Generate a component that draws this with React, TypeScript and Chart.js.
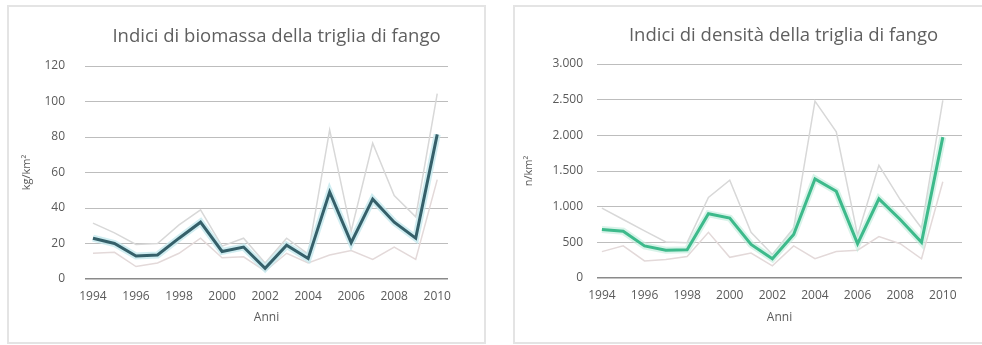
import React, { useEffect, useRef } from "react";
import { Chart, registerables } from "chart.js";

Chart.register(...registerables);

// ---- Data ----
const years = [1994, 1995, 1996, 1997, 1998, 1999, 2000, 2001, 2002, 2003, 2004, 2005, 2006, 2007, 2008, 2009, 2010];
const xTickYears = [1994, 1996, 1998, 2000, 2002, 2004, 2006, 2008, 2010];

const biomassMain = [23, 20, 13, 13.5, 23, 32, 15.5, 18, 6, 19, 11.5, 49, 20.5, 45, 32, 23, 81.5];
const biomassUpper = [31.5, 26, 19.5, 20, 30.5, 39, 18.5, 23, 9, 23, 14, 84, 27, 76.5, 47, 35, 104.5];
const biomassLower = [14.5, 15, 7, 9, 14.5, 23, 12, 12.5, 4.5, 14.5, 9, 13.5, 16, 11, 18, 11, 56];
const biomassTicks = [0, 20, 40, 60, 80, 100, 120];

const densityMain = [680, 655, 450, 390, 395, 900, 840, 470, 270, 610, 1390, 1215, 480, 1110, 820, 500, 1975];
const densityUpper = [980, 820, 660, 505, 495, 1130, 1370, 640, 330, 700, 2480, 2050, 600, 1580, 1100, 700, 2490];
const densityLower = [370, 450, 240, 260, 300, 640, 290, 350, 170, 450, 270, 370, 390, 580, 480, 270, 1350];
const densityTicks = [0, 500, 1000, 1500, 2000, 2500, 3000];

const FONT = "'Open Sans', 'DejaVu Sans', sans-serif";
const TEXT = "#5a5a5a";

const panelTitlePlugin = {
  id: "panelTitle",
  afterDraw(chart: any, _args: any, opts: any) {
    if (!opts || !opts.text) return;
    const { ctx, chartArea } = chart;
    ctx.save();
    ctx.font = `${opts.size}px ${FONT}`;
    ctx.fillStyle = opts.color;
    ctx.textAlign = "center";
    ctx.textBaseline = "middle";
    ctx.fillText(opts.text, (chartArea.left + chartArea.right) / 2 + opts.dx, opts.y);
    ctx.restore();
  },
};

type PanelProps = {
  title: string;
  yTitle: string;
  main: number[];
  upper: number[];
  lower: number[];
  yTicks: number[];
  mainColor: string;
  haloColor: string;
  thousandsDot: boolean;
  layout: {
    width: number;
    height: number;
    padTop: number;
    padRight: number;
    yWidth: number;
    xHeight: number;
    yTickPad: number;
    yTitlePad: number;
    xMin: number;
    xMax: number;
    titleDx: number;
    titleY: number;
  };
};

function fmt(v: number, dot: boolean) {
  const s = String(Math.round(v));
  return dot ? s.replace(/\B(?=(\d{3})+(?!\d))/g, ".") : s;
}

function Panel(p: PanelProps) {
  const ref = useRef<HTMLCanvasElement | null>(null);
  useEffect(() => {
    if (!ref.current) return;
    const L = p.layout;
    const pts = (arr: number[]) => years.map((y, i) => ({ x: y, y: arr[i] }));
    const chart = new Chart(ref.current, {
      type: "line",
      data: {
        datasets: [
          { data: pts(p.main), borderColor: p.mainColor, borderWidth: 3, pointRadius: 0, tension: 0 },
          { data: pts(p.main), borderColor: p.haloColor, borderWidth: 7, pointRadius: 0, tension: 0 },
          { data: pts(p.upper), borderColor: "#d8d8d8", borderWidth: 1.5, pointRadius: 0, tension: 0 },
          { data: pts(p.lower), borderColor: "#e3d9d9", borderWidth: 1.5, pointRadius: 0, tension: 0 },
        ],
      },
      options: {
        responsive: false,
        animation: false,
        devicePixelRatio: 1,
        layout: { padding: { top: L.padTop, right: L.padRight, left: 0, bottom: 0 } },
        plugins: {
          legend: { display: false },
          tooltip: { enabled: false },
          title: { display: false },
          panelTitle: { text: p.title, size: 18.5, color: "#5f5f5f", dx: L.titleDx, y: L.titleY },
        } as any,
        scales: {
          x: {
            type: "linear",
            min: L.xMin,
            max: L.xMax,
            bounds: "data",
            grid: { display: false, drawTicks: false },
            border: { display: false },
            afterBuildTicks: (s: any) => {
              s.ticks = xTickYears.map((v) => ({ value: v }));
            },
            afterFit: (s: any) => {
              s.height = L.xHeight;
            },
            ticks: {
              autoSkip: false,
              maxRotation: 0,
              padding: 10,
              color: TEXT,
              font: { family: FONT, size: 12 },
              callback: (v: any) => String(v),
            },
            title: {
              display: true,
              text: "Anni",
              color: TEXT,
              font: { family: FONT, size: 12 },
              padding: { top: 0, bottom: 17 },
            },
          },
          y: {
            type: "linear",
            min: p.yTicks[0],
            max: p.yTicks[p.yTicks.length - 1],
            bounds: "data",
            afterBuildTicks: (s: any) => {
              s.ticks = p.yTicks.map((v) => ({ value: v }));
            },
            afterFit: (s: any) => {
              s.width = L.yWidth;
            },
            grid: {
              drawTicks: false,
              color: (c: any) => (c.tick && c.tick.value === 0 ? "#8a8a8a" : "#bdbdbd"),
              lineWidth: (c: any) => (c.tick && c.tick.value === 0 ? 1.5 : 1),
            },
            border: { display: false },
            ticks: {
              padding: L.yTickPad,
              color: TEXT,
              font: { family: FONT, size: 12 },
              callback: (v: any) => fmt(Number(v), p.thousandsDot),
            },
            title: {
              display: true,
              text: p.yTitle,
              color: TEXT,
              font: { family: FONT, size: 11 },
              padding: { top: L.yTitlePad, bottom: 0 },
            },
          },
        },
      },
      plugins: [panelTitlePlugin],
    } as any);
    return () => chart.destroy();
  }, []);
  return (
    <canvas
      ref={ref}
      width={p.layout.width}
      height={p.layout.height}
      style={{ width: p.layout.width, height: p.layout.height, display: "block" }}
    />
  );
}

export default function App() {
  return (
    <div style={{ position: "absolute", left: 0, top: 0, width: 982, height: 345, overflow: "hidden", background: "#fff" }}>
      <div
        style={{
          position: "absolute",
          left: 7,
          top: 5,
          width: 479,
          height: 339,
          border: "2px solid #e4e4e4",
          boxSizing: "border-box",
        }}
      />
      <div
        style={{
          position: "absolute",
          left: 513,
          top: 5,
          width: 490,
          height: 339,
          border: "2px solid #e4e4e4",
          boxSizing: "border-box",
        }}
      />
      <div style={{ position: "absolute", left: 10, top: 8 }}>
        <Panel
          title="Indici di biomassa della triglia di fango"
          yTitle="kg/km²"
          main={biomassMain}
          upper={biomassUpper}
          lower={biomassLower}
          yTicks={biomassTicks}
          mainColor="#35606a"
          haloColor="rgba(196,232,238,0.8)"
          thousandsDot={false}
          layout={{
            width: 473,
            height: 334,
            padTop: 58,
            padRight: 35,
            yWidth: 75,
            xHeight: 63,
            yTickPad: 20,
            yTitlePad: 10,
            xMin: 1993.63,
            xMax: 2010.5,
            titleDx: 10,
            titleY: 29,
          }}
        />
      </div>
      <div style={{ position: "absolute", left: 516, top: 8 }}>
        <Panel
          title="Indici di densità della triglia di fango"
          yTitle="n/km²"
          main={densityMain}
          upper={densityUpper}
          lower={densityLower}
          yTicks={densityTicks}
          mainColor="#3dba8b"
          haloColor="rgba(190,235,218,0.6)"
          thousandsDot={true}
          layout={{
            width: 466,
            height: 334,
            padTop: 56,
            padRight: 20,
            yWidth: 81,
            xHeight: 64,
            yTickPad: 14,
            yTitlePad: 6,
            xMin: 1993.77,
            xMax: 2010.9,
            titleDx: 4,
            titleY: 28,
          }}
        />
      </div>
    </div>
  );
}
